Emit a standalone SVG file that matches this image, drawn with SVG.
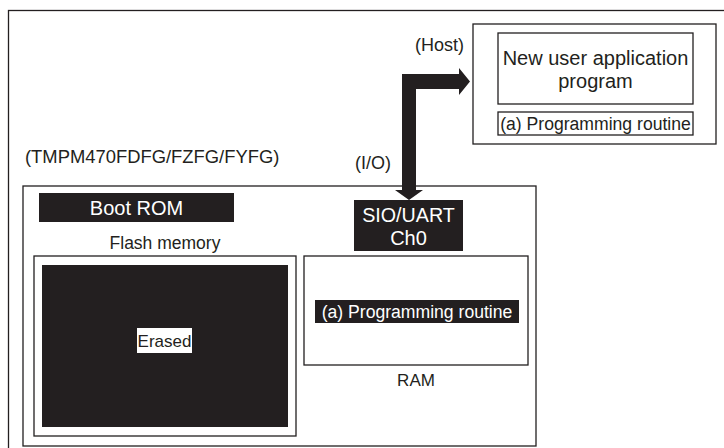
<svg xmlns="http://www.w3.org/2000/svg" width="724" height="448" viewBox="0 0 724 448">
<style>
text{font-family:"Liberation Sans",Arial,sans-serif;fill:#231f20;}
.box{fill:#fff;stroke:#231f20;stroke-width:1.3;}
.blk{fill:#231f20;}
.w{fill:#fff;}
.c{text-anchor:middle;}
</style>
<rect x="8.5" y="10.5" width="730" height="450" class="box"/>
<g id="host">
<rect x="473" y="24" width="243" height="120" class="box"/>
<text x="415" y="51" font-size="18">(Host)</text>
</g>
<g id="new-app">
<rect x="498" y="33" width="195" height="71" class="box"/>
<text x="595.5" y="65" font-size="20" class="c">New user application</text>
<text x="595.5" y="88" font-size="20" class="c">program</text>
</g>
<g id="host-routine">
<rect x="498" y="112" width="195" height="23" class="box"/>
<text x="595.5" y="130" font-size="17.6" class="c">(a) Programming routine</text>
</g>
<g id="chip">
<text x="25" y="163" font-size="18.4">(TMPM470FDFG/FZFG/FYFG)</text>
<rect x="23" y="186" width="513" height="260" class="box"/>
</g>
<g id="boot-rom">
<rect x="39" y="193" width="195" height="29" class="blk"/>
<text x="136.5" y="215" font-size="20" class="c w">Boot ROM</text>
</g>
<g id="flash">
<text x="165" y="249" font-size="17.5" class="c">Flash memory</text>
<rect x="34" y="256" width="262" height="180" class="box"/>
<rect x="42" y="265" width="246" height="162" class="blk"/>
<rect x="137" y="328" width="55" height="25" fill="#fff"/>
<text x="164.5" y="346.5" font-size="17" class="c">Erased</text>
</g>
<g id="sio">
<rect x="354" y="200" width="109" height="51" class="blk"/>
<text x="408.5" y="222" font-size="19.7" class="c w">SIO/UART</text>
<text x="408.5" y="245" font-size="20" class="c w">Ch0</text>
<text x="355" y="169" font-size="18">(I/O)</text>
</g>
<g id="ram">
<rect x="304" y="256" width="224" height="109" class="box"/>
<rect x="315" y="300" width="204" height="23" class="blk"/>
<text x="417" y="318" font-size="17.6" class="c w">(a) Programming routine</text>
<text x="416" y="386" font-size="17" class="c">RAM</text>
</g>
<g id="connectors">
<path d="M402,190 L402,74 L459,74 L459,68 L470,81.5 L459,95 L459,89 L416,89 L416,190 L423,190 L409,200 L395,190 Z" class="blk"/>
</g>
</svg>
